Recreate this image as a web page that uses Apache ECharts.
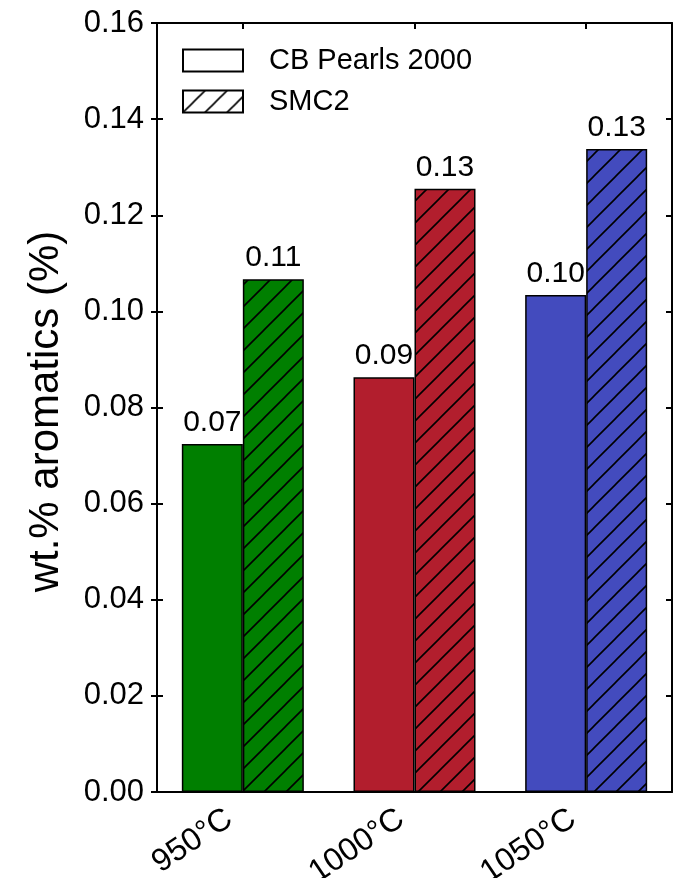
<!DOCTYPE html>
<html><head><meta charset="utf-8">
<script src="https://cdn.jsdelivr.net/npm/echarts@6/dist/echarts.min.js"></script>
<style>html,body{margin:0;padding:0;background:#fff}#c{width:687px;height:878px}</style>
</head><body><div id="c"></div>
<script>
const categories = ['950°C', '1000°C', '1050°C'];
const seriesNames = ['CB Pearls 2000', 'SMC2'];
const cbPearls = [0.0724, 0.0863, 0.1034];
const smc2 = [0.1067, 0.1255, 0.1338];
const barColors = ['#007F00', '#B21E2D', '#434BBE'];
const yTicks = [0, 0.02, 0.04, 0.06, 0.08, 0.10, 0.12, 0.14, 0.16];

function hatch(bg) {
  const c = document.createElement('canvas');
  const s = 22;
  c.width = s; c.height = s;
  const ctx = c.getContext('2d');
  ctx.fillStyle = bg; ctx.fillRect(0, 0, s, s);
  ctx.strokeStyle = '#000'; ctx.lineWidth = 1.6;
  ctx.beginPath();
  ctx.moveTo(-2, s + 2); ctx.lineTo(s + 2, -2);
  ctx.moveTo(-4, 4); ctx.lineTo(4, -4);
  ctx.moveTo(s - 4, s + 4); ctx.lineTo(s + 4, s - 4);
  ctx.stroke();
  return { image: c, repeat: 'repeat' };
}

const font = 'Liberation Sans, Arial, sans-serif';
const chart = echarts.init(document.getElementById('c'));
const labelCfg = { show: true, position: 'top', distance: 6, fontSize: 30, color: '#000', fontFamily: font,
  formatter: p => p.value.toFixed(2) };
const yBase = { type: 'value', min: yTicks[0], max: yTicks[yTicks.length - 1], interval: 0.02, splitLine: { show: false } };

chart.setOption({
  animation: false,
  backgroundColor: '#fff',
  grid: { left: 157, right: 15, top: 23, bottom: 86, containLabel: false, outerBoundsMode: 'none' },
  legend: {
    orient: 'vertical', left: 177, top: 41, itemWidth: 60, itemHeight: 22, itemGap: 12,
    icon: 'rect',
    textStyle: { fontSize: 29, fontFamily: font, color: '#000', padding: [0, 0, 0, 21] },
    data: seriesNames
  },
  xAxis: [
    { type: 'category', data: categories, position: 'bottom',
      axisLine: { onZero: false, lineStyle: { color: '#000', width: 2 } },
      axisTick: { show: false },
      axisLabel: { rotate: 34, fontSize: 32, color: '#000', fontFamily: font, margin: 15,
        padding: [0, 16, 0, 0] } },
    { type: 'category', data: categories, position: 'top',
      axisLine: { onZero: false, lineStyle: { color: '#000', width: 2 } },
      axisTick: { show: true, inside: true, alignWithLabel: true, length: 6, lineStyle: { width: 2 } },
      axisLabel: { show: false } }
  ],
  yAxis: [
    Object.assign({}, yBase, { position: 'left',
      name: 'wt.% aromatics (%)', nameLocation: 'middle', nameGap: 90,
      nameTextStyle: { fontSize: 42, fontFamily: font, color: '#000', padding: [0, 8, 0, 0] },
      axisLine: { show: true, onZero: false, lineStyle: { color: '#000', width: 2 } },
      axisTick: { show: true, length: 6, lineStyle: { width: 2 } },
      axisLabel: { fontSize: 31, color: '#000', fontFamily: font, margin: 13,
        formatter: v => v.toFixed(2) } }),
    Object.assign({}, yBase, { position: 'left',
      axisLine: { show: true, onZero: false, lineStyle: { color: '#000', width: 2 } },
      axisTick: { show: true, inside: true, length: 6, lineStyle: { width: 2 } },
      axisLabel: { show: false } }),
    Object.assign({}, yBase, { position: 'right',
      axisLine: { show: true, onZero: false, lineStyle: { color: '#000', width: 2 } },
      axisTick: { show: true, inside: true, length: 6, lineStyle: { width: 2 } },
      axisLabel: { show: false } })
  ],
  series: [
    { name: seriesNames[0], type: 'bar', barWidth: 61, barGap: '0%',
      itemStyle: { color: '#fff', borderColor: '#000', borderWidth: 1.5 },
      label: labelCfg,
      data: cbPearls.map((v, i) => ({ value: v, itemStyle: { color: barColors[i] } })) },
    { name: seriesNames[1], type: 'bar', barWidth: 61, barGap: '0%',
      itemStyle: { color: hatch('#fff'), borderColor: '#000', borderWidth: 1.5 },
      label: labelCfg,
      data: smc2.map((v, i) => ({ value: v, itemStyle: { color: hatch(barColors[i]) } })) }
  ]
});
</script></body></html>
